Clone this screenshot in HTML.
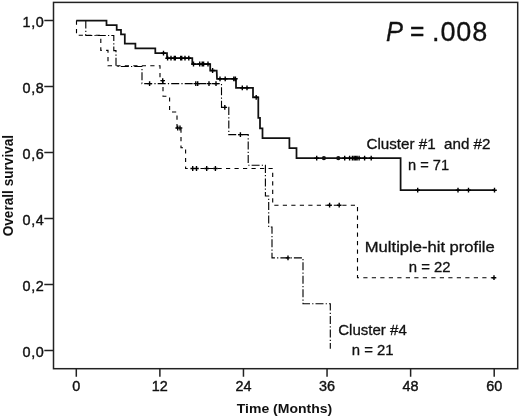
<!DOCTYPE html>
<html><head><meta charset="utf-8"><title>Overall survival</title>
<style>
html,body{margin:0;padding:0;background:#fff}
svg{display:block}
text{font-family:"Liberation Sans",sans-serif;fill:#111}
.tk text{font-size:14.4px;stroke:#111;stroke-width:0.4px}
.ax{font-weight:bold;font-size:13.7px}
.lb{font-size:14.7px;stroke:#111;stroke-width:0.3px}
.pv text{stroke:#111;stroke-width:0.3px}
</style></head><body>
<svg width="520" height="417" viewBox="0 0 520 417">
<rect width="520" height="417" fill="#fff"/>
<rect x="53.5" y="2.4" width="464.2" height="366.3" fill="none" stroke="#222" stroke-width="1.5"/>
<path d="M76.3,368.7v8M159.88,368.7v8M243.46,368.7v8M327.04,368.7v8M410.62,368.7v8M494.2,368.7v8M44.3,20.6h9M44.3,86.6h9M44.3,152.6h9M44.3,218.6h9M44.3,284.6h9M44.3,350.6h9" stroke="#222" stroke-width="1.5" fill="none"/>
<g class="tk"><text x="76.3" y="390.8" text-anchor="middle">0</text><text x="159.88" y="390.8" text-anchor="middle">12</text><text x="243.46" y="390.8" text-anchor="middle">24</text><text x="327.04" y="390.8" text-anchor="middle">36</text><text x="410.62" y="390.8" text-anchor="middle">48</text><text x="494.2" y="390.8" text-anchor="middle">60</text><text letter-spacing="0.6" x="44.4" y="27.2" text-anchor="end">1,0</text><text letter-spacing="0.6" x="44.4" y="93.2" text-anchor="end">0,8</text><text letter-spacing="0.6" x="44.4" y="159.2" text-anchor="end">0,6</text><text letter-spacing="0.6" x="44.4" y="225.2" text-anchor="end">0,4</text><text letter-spacing="0.6" x="44.4" y="291.2" text-anchor="end">0,2</text><text letter-spacing="0.6" x="44.4" y="357.2" text-anchor="end">0,0</text></g>
<path d="M76.5,20.5 L76.5,35.3 L100.8,35.3 L100.8,50.4 L108,50.4 L108,65.7 L160,65.7 L160,80.6 L163,80.6 L163,96.3 L169.6,96.3 L169.6,112 L177,112 L177,128 L181,128 L181,147.7 L185.6,147.7 L185.6,168.5 L272.7,168.5 L272.7,205.2 L357.5,205.2 L357.5,277.7 L494,277.7" fill="none" stroke="#000" stroke-width="1.12" stroke-dasharray="4.2 4.3"/>
<path d="M85.8,20.5 L85.8,35.5 L113.8,35.5 L113.8,50.6 L116,50.6 L116,66.5 L142,66.5 L142,83.6 L221.5,83.6 L221.5,107.4 L228.8,107.4 L228.8,134.6 L248.2,134.6 L248.2,165.2 L265.4,165.2 L265.4,196 L268.7,196 L268.7,227 L272,227 L272,257.9 L303,257.9 L303,303.8 L330.3,303.8 L330.3,348.7" fill="none" stroke="#000" stroke-width="1.12" stroke-dasharray="8 2.2 1.2 2.1"/>
<path d="M76.3,20.6 L106.5,20.6 L106.5,25.2 L116.7,25.2 L116.7,29.8 L121,29.8 L121,34.4 L124.8,34.4 L124.8,43.7 L135.4,43.7 L135.4,48.4 L155.3,48.4 L155.3,53.2 L167,53.2 L167,58.2 L192.3,58.2 L192.3,64 L210.2,64 L210.2,70.5 L216.7,70.5 L217,78.8 L236,78.8 L236,87.9 L253,87.9 L253,97.3 L258.3,97.3 L258.3,117.8 L260,117.8 L260,128.3 L262.5,128.3 L262.5,138 L289.4,138 L289.4,148.2 L296.5,148.2 L296.5,158.2 L400.6,158.2 L400.6,190.2 L494.5,190.2" fill="none" stroke="#111" stroke-width="1.75"/>
<circle cx="323.9" cy="158.2" r="2.1" fill="#111"/><circle cx="338.3" cy="158.2" r="2.1" fill="#111"/>
<path d="M161.2,53.2h4.6M163.5,50.8v4.8M165.3,58.2h4.6M167.6,55.8v4.8M168.7,58.2h4.6M171,55.8v4.8M172,58.2h4.6M174.3,55.8v4.8M173,58.2h4.6M175.3,55.8v4.8M178.4,58.2h4.6M180.7,55.8v4.8M179.4,58.2h4.6M181.7,55.8v4.8M182.7,58.2h4.6M185,55.8v4.8M186.5,58.2h4.6M188.8,55.8v4.8M191.2,64h4.6M193.5,61.6v4.8M197.4,64h4.6M199.7,61.6v4.8M199.9,64h4.6M202.2,61.6v4.8M201.3,64h4.6M203.6,61.6v4.8M205.7,64h4.6M208,61.6v4.8M210.3,70.5h4.6M212.6,68.1v4.8M217.7,78.8h4.6M220,76.4v4.8M222.9,78.8h4.6M225.2,76.4v4.8M231.5,78.8h4.6M233.8,76.4v4.8M233.1,78.8h4.6M235.4,76.4v4.8M240,87.9h4.6M242.3,85.5v4.8M244.7,87.9h4.6M247,85.5v4.8M253.9,97.3h4.6M256.2,94.9v4.8M314.4,158.2h4.6M316.7,155.8v4.8M342.4,158.2h4.6M344.7,155.8v4.8M347.3,158.2h4.6M349.6,155.8v4.8M350.1,158.2h4.6M352.4,155.8v4.8M351.8,158.2h4.6M354.1,155.8v4.8M353.3,158.2h4.6M355.6,155.8v4.8M354.8,158.2h4.6M357.1,155.8v4.8M356.8,158.2h4.6M359.1,155.8v4.8M362.3,158.2h4.6M364.6,155.8v4.8M368.9,158.2h4.6M371.2,155.8v4.8M415.4,190.2h4.6M417.7,187.8v4.8M455.7,190.2h4.6M458,187.8v4.8M466.2,190.2h4.6M468.5,187.8v4.8M492.2,190.2h4.6M494.5,187.8v4.8M160.4,80.6h4.6M162.7,78.2v4.8M175.4,128h4.6M177.7,125.6v4.8M177.7,128h4.6M180,125.6v4.8M190.4,168.5h4.6M192.7,166.1v4.8M194.2,168.5h4.6M196.5,166.1v4.8M204.4,168.5h4.6M206.7,166.1v4.8M213.1,168.5h4.6M215.4,166.1v4.8M327.3,205.2h4.6M329.6,202.8v4.8M336.9,205.2h4.6M339.2,202.8v4.8M491.7,277.7h4.6M494,275.3v4.8M147.3,83.6h4.6M149.6,81.2v4.8M193.5,83.6h4.6M195.8,81.2v4.8M195.4,83.6h4.6M197.7,81.2v4.8M206.7,83.6h4.6M209,81.2v4.8M213.7,83.6h4.6M216,81.2v4.8M222.5,107.4h4.6M224.8,105v4.8M238.1,134.6h4.6M240.4,132.2v4.8M285.7,257.9h4.6M288,255.5v4.8" stroke="#000" stroke-width="1.4" fill="none"/>
<text class="ax" x="284.5" y="412.6" text-anchor="middle" textLength="95.5" lengthAdjust="spacingAndGlyphs">Time (Months)</text>
<text class="ax" style="font-size:14.2px" transform="translate(13.2,185.6) rotate(-90)" text-anchor="middle" textLength="101.5" lengthAdjust="spacingAndGlyphs">Overall survival</text>
<g font-size="27" class="pv"><text x="386" y="40.9" font-style="italic" textLength="17" lengthAdjust="spacingAndGlyphs">P</text><text x="409.9" y="40.9" textLength="14.4" lengthAdjust="spacingAndGlyphs">=</text><text x="432" y="41.1" letter-spacing="0.9">.008</text></g>
<text class="lb" x="366.5" y="149.4" textLength="124" lengthAdjust="spacingAndGlyphs" xml:space="preserve" style="white-space:pre">Cluster #1  and #2</text>
<text class="lb" x="408" y="169.8" textLength="41" lengthAdjust="spacingAndGlyphs">n = 71</text>
<text class="lb" x="364.8" y="252.3" textLength="130" lengthAdjust="spacingAndGlyphs">Multiple-hit profile</text>
<text class="lb" x="408.8" y="272.4" textLength="41.8" lengthAdjust="spacingAndGlyphs">n = 22</text>
<text class="lb" x="338.2" y="334.6" textLength="68.6" lengthAdjust="spacingAndGlyphs">Cluster #4</text>
<text class="lb" x="351.8" y="354.8" textLength="41.8" lengthAdjust="spacingAndGlyphs">n = 21</text>
</svg>
</body></html>
